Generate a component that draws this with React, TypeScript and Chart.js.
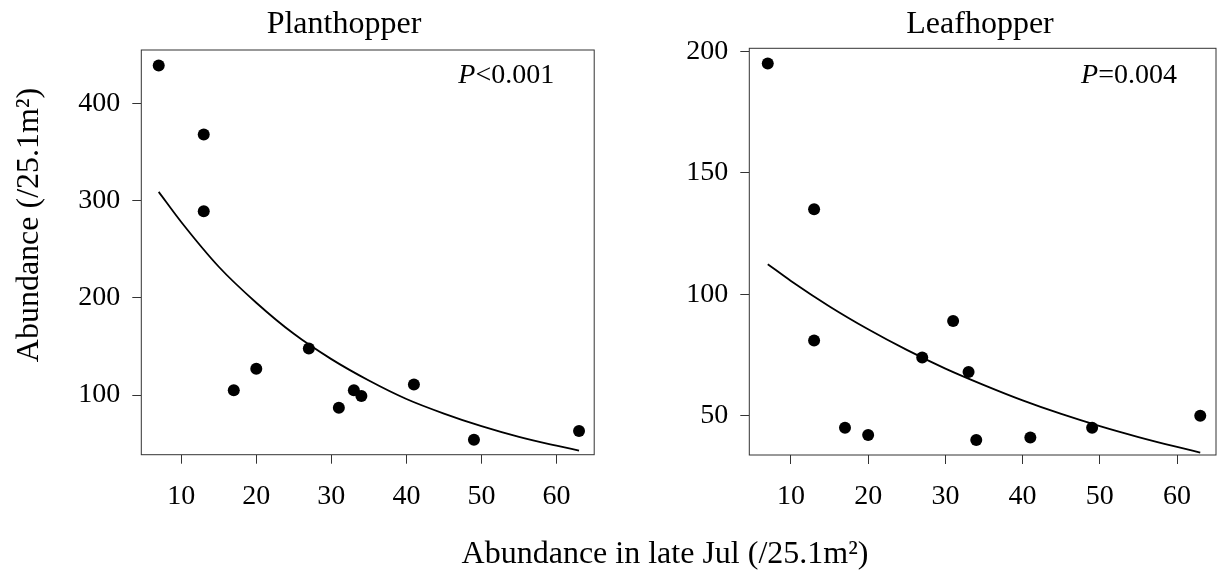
import React, { useEffect, useRef } from 'react';
import { Chart, registerables } from 'chart.js';

Chart.register(...registerables);

// ---- data ----
const xValues = [7, 13, 13, 17, 20, 27, 31, 33, 34, 41, 49, 63];
const planthopperValues = [439, 368, 289, 105, 127, 148, 87, 105, 99, 111, 54, 63];
const leafhopperValues = [195, 135, 81, 45, 42, 74, 89, 68, 40, 41, 45, 50];
const curveX = [7, 10, 15, 20, 25, 30, 35, 40, 45, 50, 55, 60, 63];
const planthopperCurve = [309, 278, 232, 195, 163, 137, 115, 96, 81, 68, 57, 48, 43];
const leafhopperCurve = [112.4, 105.5, 95, 85.6, 77.1, 69.4, 62.6, 56.3, 50.7, 45.7, 41.2, 37.1, 34.8];
const xTicks = [10, 20, 30, 40, 50, 60];
const planthopperYTicks = [100, 200, 300, 400];
const leafhopperYTicks = [50, 100, 150, 200];
const panelTitles = ['Planthopper', 'Leafhopper'];
const pItalic = ['P', 'P'];
const pRest = ['<0.001', '=0.004'];
const xAxisTitle = 'Abundance in late Jul (/25.1m²)';
const yAxisTitle = 'Abundance (/25.1m²)';

const FONT_FAMILY = '"Liberation Serif", "Times New Roman", serif';
const W = 1222;
const H = 571;

type PanelSpec = {
  values: number[];
  curve: number[];
  yTicks: number[];
  xMin: number;
  xMax: number;
  yMin: number;
  yMax: number;
  padding: { left: number; top: number; right: number; bottom: number };
  title: string;
  titleX: number;
  pItalic: string;
  pRest: string;
  pRightInset: number;
  pBaseline: number;
  drawShared: boolean;
};

function textPlugin(p: PanelSpec) {
  return {
    id: 'panelText',
    afterDraw(chart: any) {
      const { ctx, chartArea } = chart;
      ctx.save();
      ctx.strokeStyle = '#333';
      ctx.lineWidth = 1;
      ctx.strokeRect(
        chartArea.left,
        chartArea.top,
        chartArea.right - chartArea.left,
        chartArea.bottom - chartArea.top
      );
      ctx.fillStyle = '#000';
      ctx.textBaseline = 'alphabetic';
      // panel title
      ctx.font = `32px ${FONT_FAMILY}`;
      ctx.textAlign = 'center';
      ctx.fillText(p.title, p.titleX, 33);
      // p value
      ctx.font = `28px ${FONT_FAMILY}`;
      const restW = ctx.measureText(p.pRest).width;
      ctx.font = `italic 28px ${FONT_FAMILY}`;
      const pW = ctx.measureText(p.pItalic).width;
      const end = chartArea.right - p.pRightInset;
      ctx.textAlign = 'left';
      ctx.fillText(p.pItalic, end - restW - pW, p.pBaseline);
      ctx.font = `28px ${FONT_FAMILY}`;
      ctx.fillText(p.pRest, end - restW, p.pBaseline);
      if (p.drawShared) {
        ctx.font = `32px ${FONT_FAMILY}`;
        ctx.textAlign = 'center';
        ctx.fillText(xAxisTitle, 665, 563);
        ctx.save();
        ctx.translate(38, 225);
        ctx.rotate(-Math.PI / 2);
        ctx.fillText(yAxisTitle, 0, 0);
        ctx.restore();
      }
      ctx.restore();
    },
  };
}

function makeConfig(p: PanelSpec): any {
  const tickFont = { family: FONT_FAMILY, size: 28 };
  const grid = {
    display: true,
    drawOnChartArea: false,
    drawTicks: true,
    tickLength: 9,
    color: '#333',
    lineWidth: 1,
  };
  return {
    type: 'scatter',
    data: {
      datasets: [
        {
          data: xValues.map((x, i) => ({ x, y: p.values[i] })),
          pointRadius: 6,
          pointBackgroundColor: '#000',
          pointBorderColor: '#000',
          pointBorderWidth: 0,
          showLine: false,
        },
        {
          data: curveX.map((x, i) => ({ x, y: p.curve[i] })),
          showLine: true,
          pointRadius: 0,
          borderColor: '#000',
          borderWidth: 1.8,
          cubicInterpolationMode: 'monotone',
          fill: false,
        },
      ],
    },
    options: {
      responsive: false,
      animation: false,
      devicePixelRatio: 1,
      events: [],
      layout: { padding: p.padding },
      plugins: {
        legend: { display: false },
        tooltip: { enabled: false },
        title: { display: false },
      },
      scales: {
        x: {
          type: 'linear',
          min: p.xMin,
          max: p.xMax,
          afterBuildTicks: (s: any) => {
            s.ticks = xTicks.map((v) => ({ value: v }));
          },
          afterFit: (s: any) => {
            s.height = 60;
          },
          grid,
          border: { display: false },
          ticks: {
            font: tickFont,
            color: '#000',
            padding: 16,
            maxRotation: 0,
            autoSkip: false,
          },
        },
        y: {
          type: 'linear',
          min: p.yMin,
          max: p.yMax,
          afterBuildTicks: (s: any) => {
            s.ticks = p.yTicks.map((v) => ({ value: v }));
          },
          afterFit: (s: any) => {
            s.width = 141.3;
          },
          grid,
          border: { display: false },
          ticks: {
            font: tickFont,
            color: '#000',
            padding: 12,
            autoSkip: false,
          },
        },
      },
    },
    plugins: [textPlugin(p)],
  };
}

const leftSpec: PanelSpec = {
  values: planthopperValues,
  curve: planthopperCurve,
  yTicks: planthopperYTicks,
  xMin: 4.68,
  xMax: 65.02,
  yMin: 38.7,
  yMax: 454.9,
  padding: { left: 0, top: 50, right: W - 594.2, bottom: H - 454.7 - 60 },
  title: panelTitles[0],
  titleX: 344,
  pItalic: pItalic[0],
  pRest: pRest[0],
  pRightInset: 40,
  pBaseline: 83,
  drawShared: true,
};

const rightSpec: PanelSpec = {
  values: leafhopperValues,
  curve: leafhopperCurve,
  yTicks: leafhopperYTicks,
  xMin: 4.61,
  xMax: 65.04,
  yMin: 33.8,
  yMax: 201.3,
  padding: { left: 749.3 - 141.3, top: 48.3, right: W - 1216.7, bottom: H - 455 - 60 },
  title: panelTitles[1],
  titleX: 980,
  pItalic: pItalic[1],
  pRest: pRest[1],
  pRightInset: 39,
  pBaseline: 82.5,
  drawShared: false,
};

export default function App() {
  const leftRef = useRef<HTMLCanvasElement | null>(null);
  const rightRef = useRef<HTMLCanvasElement | null>(null);

  useEffect(() => {
    const charts: Chart[] = [];
    if (leftRef.current) charts.push(new Chart(leftRef.current, makeConfig(leftSpec)));
    if (rightRef.current) charts.push(new Chart(rightRef.current, makeConfig(rightSpec)));
    return () => {
      charts.forEach((c) => c.destroy());
    };
  }, []);

  const canvasStyle: React.CSSProperties = {
    position: 'absolute',
    left: 0,
    top: 0,
    width: W,
    height: H,
  };

  return (
    <div
      style={{
        position: 'absolute',
        left: 0,
        top: 0,
        width: W,
        height: H,
        background: '#fff',
        overflow: 'hidden',
      }}
    >
      <canvas ref={leftRef} width={W} height={H} style={canvasStyle} />
      <canvas ref={rightRef} width={W} height={H} style={canvasStyle} />
    </div>
  );
}
